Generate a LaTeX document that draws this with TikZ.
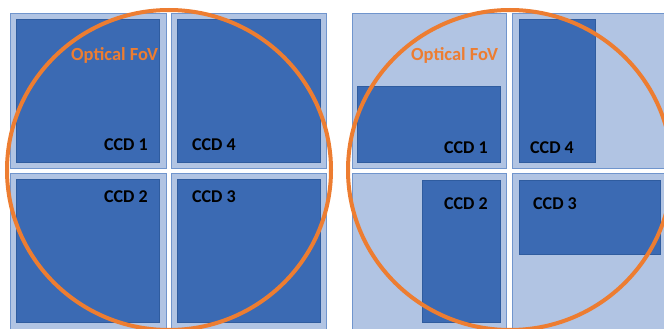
\documentclass[tikz,border=0pt]{standalone}
\usepackage{fontspec}
\setmainfont{Carlito}
\definecolor{ccddark}{HTML}{3B6AB3}
\definecolor{ccdedge}{HTML}{2F5C9F}
\definecolor{padlight}{HTML}{B1C4E3}
\definecolor{padedge}{HTML}{7095CD}
\definecolor{fovorange}{HTML}{ED7D31}
\tikzset{
  pad/.style={fill=padlight, draw=padedge, line width=0.8pt},
  chip/.style={fill=ccddark, draw=ccdedge, line width=0.6pt},
  fov/.style={draw=fovorange, line width=4pt},
  lbl/.style={font=\fontsize{18}{20}\selectfont\bfseries, text=black, anchor=base west, inner sep=0pt},
  fovlbl/.style={font=\fontsize{18.5}{20}\selectfont\bfseries, text=fovorange, anchor=base west, inner sep=0pt}
}
\begin{document}
\begin{tikzpicture}[x=1pt,y=-1pt]
\useasboundingbox (0,0) rectangle (664,329);
\begin{scope}
\clip (0,0) rectangle (664,329);
% ---- left layout: four full-frame CCDs ----
\draw[pad] (10,13) rectangle (166,168);
\draw[pad] (171,13) rectangle (326,168);
\draw[pad] (10,173.5) rectangle (166,334);
\draw[pad] (171,173.5) rectangle (326,334);
\draw[chip] (16.7,19) rectangle (159.3,162);
\draw[chip] (177,19) rectangle (320,162);
\draw[chip] (16.7,179) rectangle (159.3,322);
\draw[chip] (177,179) rectangle (320,322);
\node[fovlbl] (fovA) at (71,60) {Optical FoV};
\node[lbl] (ccdA1) at (104,150) {CCD 1};
\node[lbl] (ccdA4) at (192,150) {CCD 4};
\node[lbl] (ccdA2) at (104,202) {CCD 2};
\node[lbl] (ccdA3) at (192,202) {CCD 3};
\draw[fov] (169,170) ellipse [x radius=162, y radius=160];
% ---- right layout: four partial CCDs ----
\draw[pad] (352.5,13) rectangle (506.5,168);
\draw[pad] (512.3,13) rectangle (670,168);
\draw[pad] (352.5,173.5) rectangle (506.5,334);
\draw[pad] (512.3,173.5) rectangle (670,334);
\draw[chip] (357.7,86.7) rectangle (500,162);
\draw[chip] (519,19.3) rectangle (595.7,162);
\draw[chip] (422.7,180) rectangle (500,322);
\draw[chip] (519,180) rectangle (660.7,254.3);
\node[fovlbl] (fovB) at (411,60) {Optical FoV};
\node[lbl] (ccdB1) at (444,153) {CCD 1};
\node[lbl] (ccdB4) at (530,153) {CCD 4};
\node[lbl] (ccdB2) at (444,209) {CCD 2};
\node[lbl] (ccdB3) at (533,209) {CCD 3};
\draw[fov] (510,170) ellipse [x radius=162, y radius=160];
\end{scope}
\end{tikzpicture}
\end{document}
